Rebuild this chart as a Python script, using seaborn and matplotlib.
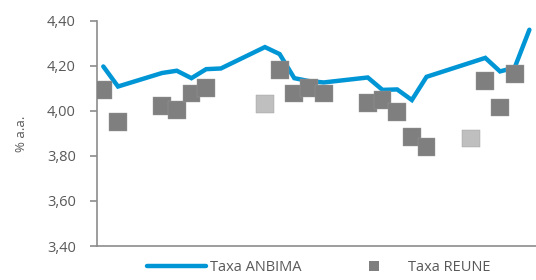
import matplotlib
matplotlib.use("Agg")
import matplotlib.pyplot as plt
from matplotlib.lines import Line2D
from matplotlib.ticker import FuncFormatter
import seaborn as sns
import pandas as pd

# --- data -------------------------------------------------------------
anbima_dias = [0, 1, 4, 5, 6, 7, 8, 11, 12, 13, 14, 15, 18, 19, 20, 21, 22, 26, 27, 28, 29]
anbima_taxa = [4.197, 4.108, 4.168, 4.178, 4.145, 4.185, 4.188, 4.283, 4.252, 4.145,
               4.132, 4.126, 4.148, 4.093, 4.095, 4.048, 4.151, 4.235, 4.175, 4.192, 4.360]

reune_dias = [0, 1, 4, 5, 6, 7, 11, 12, 13, 14, 15, 18, 19, 20, 21, 22, 25, 26, 27, 28]
reune_taxa = [4.092, 3.950, 4.022, 4.003, 4.077, 4.102, 4.030, 4.181, 4.077, 4.100,
              4.077, 4.033, 4.048, 3.996, 3.884, 3.840, 3.877, 4.132, 4.015, 4.163]
reune_destaque = ["n", "n", "n", "n", "n", "n", "s", "n", "n", "n",
                  "n", "n", "n", "n", "n", "n", "s", "n", "n", "n"]

y_ticks = [3.40, 3.60, 3.80, 4.00, 4.20, 4.40]
y_label = "% a.a."
legend_labels = ["Taxa ANBIMA", "Taxa REUNE"]

# --- style ------------------------------------------------------------
sns.set_theme(style="white")
plt.rcParams["font.family"] = ["Open Sans", "DejaVu Sans"]

BLUE = "#0096d6"
GRAY = "#7f7f7f"
LIGHT = "#bfbfbf"
TXT = "#595959"
SPINE = "#8c8c8c"

df_line = pd.DataFrame({"dia": anbima_dias, "taxa": anbima_taxa})
df_sq = pd.DataFrame({"dia": reune_dias, "taxa": reune_taxa, "destaque": reune_destaque})

fig = plt.figure(figsize=(5.36, 2.80), dpi=100)
ax = fig.add_axes([0.1804, 0.1214, 1 - 0.1804, 0.926 - 0.1214])

sns.lineplot(data=df_line, x="dia", y="taxa", ax=ax, color=BLUE, linewidth=3.2,
             solid_capstyle="round", solid_joinstyle="miter", zorder=2)
sns.scatterplot(data=df_sq, x="dia", y="taxa", hue="destaque",
                palette={"n": GRAY, "s": LIGHT}, marker="s", s=165,
                edgecolor="#9a9a9a", linewidth=0.3, legend=False, ax=ax, zorder=3)

ax.set_xlim(-0.45, 29.45)
ax.set_ylim(3.40, 4.40)
ax.set_yticks(y_ticks)
ax.yaxis.set_major_formatter(FuncFormatter(lambda v, p: f"{v:.2f}".replace(".", ",")))
ax.set_xticks([])
ax.set_xlabel("")
ax.set_ylabel(y_label, fontsize=9.5, color=TXT, labelpad=14)

for side in ["top", "right"]:
    ax.spines[side].set_visible(False)
for side in ["left", "bottom"]:
    ax.spines[side].set_color(SPINE)
    ax.spines[side].set_linewidth(1.2)

ax.tick_params(axis="y", which="major", left=True, length=5, width=1.2, color=SPINE,
               labelsize=10.5, labelcolor=TXT, pad=10, direction="out")

handles = [
    Line2D([0], [0], color=BLUE, linewidth=3.2, solid_capstyle="round"),
    Line2D([0], [0], color=GRAY, marker="s", linestyle="none", markersize=7.5,
           markeredgewidth=0),
]
fig.legend(handles, legend_labels, loc="center", bbox_to_anchor=(0.595, 0.043),
           ncol=2, frameon=False, fontsize=10.5, handlelength=4.0,
           handletextpad=0.3, columnspacing=3.0, labelcolor=TXT)

fig.savefig("out.png", dpi=100, facecolor="white")
